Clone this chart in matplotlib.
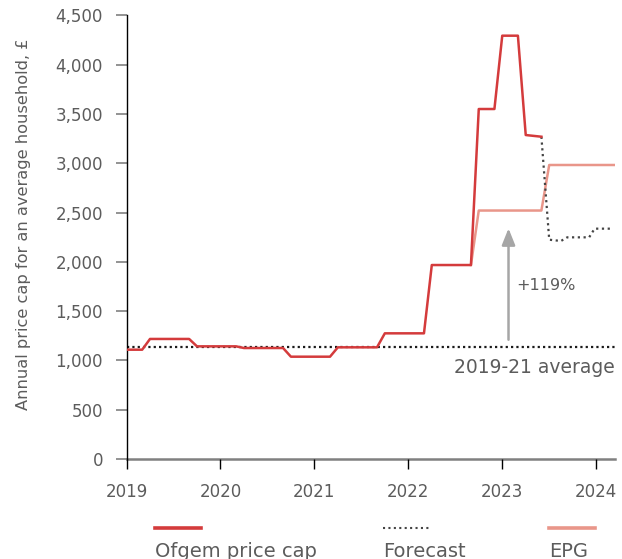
import matplotlib
matplotlib.use("Agg")
import matplotlib.pyplot as plt
from matplotlib.lines import Line2D

plt.rcParams["font.family"] = ["DejaVu Sans"]

# months counted from January 2019
cap_months = [0, 2, 3, 8, 9, 14, 15, 20, 21, 26, 27, 32, 33, 38, 39, 44, 45, 47, 48, 50, 51, 53]
cap_values = [1109, 1109, 1218, 1218, 1143, 1143, 1126, 1126, 1038, 1038, 1133, 1133,
              1275, 1275, 1968, 1968, 3551, 3551, 4295, 4295, 3287, 3270]

forecast_months = [53, 54, 55.5, 56.3, 59.1, 59.8, 62]
forecast_values = [3270, 2225, 2212, 2249, 2249, 2337, 2337]

epg_months = [44, 45, 53, 54, 62.4]
epg_values = [1968, 2521, 2521, 2983, 2983]

average_2019_21 = 1133
arrow_top = 2340
year_ticks = [0, 12, 24, 36, 48, 60]
year_labels = ["2019", "2020", "2021", "2022", "2023", "2024"]
y_ticks = list(range(0, 4501, 500))

RED = "#D43B3C"
SALMON = "#E9968A"
TEXT = "#5c5c5c"

fig = plt.figure(figsize=(6.22, 5.59), dpi=100)
ax = fig.add_axes([0.2034, 0.1789, 0.7853, 0.7934])

ax.axhline(average_2019_21, color="#1a1a1a", lw=1.6, ls=(0, (1, 1.4)), zorder=2)
ax.plot(epg_months, epg_values, color=SALMON, lw=1.8, zorder=3)
ax.plot(forecast_months, forecast_values, color="#444444", lw=1.6, ls=(0, (1, 1.6)), zorder=3)
ax.plot(cap_months, cap_values, color=RED, lw=1.8, zorder=4)

ax.annotate("", xy=(48.8, arrow_top), xytext=(48.8, 1210),
            arrowprops=dict(arrowstyle="-|>,head_length=1.0,head_width=0.4",
                            color="#A6A6A6", lw=1.8, shrinkA=0, shrinkB=0))
ax.text(49.8, 1765, "+119%", color=TEXT, fontsize=11.5, va="center", ha="left")
ax.text(62.4, 925, "2019-21 average", color=TEXT, fontsize=13.5, va="center", ha="right")

ax.set_xlim(0, 62.4)
ax.set_ylim(0, 4500)
ax.set_xticks(year_ticks, year_labels)
ax.set_yticks(y_ticks, [f"{v:,}" for v in y_ticks])

for side in ("top", "right"):
    ax.spines[side].set_visible(False)
ax.spines["left"].set_color("black")
ax.spines["left"].set_linewidth(1.0)
ax.spines["bottom"].set_color("#808080")
ax.spines["bottom"].set_linewidth(1.8)
ax.spines["bottom"].set_zorder(1)

ax.tick_params(axis="x", colors="black", length=7, width=1.0, pad=10.5,
               labelcolor=TEXT, labelsize=12)
ax.tick_params(axis="y", colors="#808080", length=8, width=1.2, pad=9,
               labelcolor=TEXT, labelsize=12)
ax.set_ylabel("Annual price cap for an average household, £", color=TEXT,
              fontsize=11.7)
ax.yaxis.set_label_coords(-0.196, 0.53)

# legend: sample line above each label
legend_items = [
    ("Ofgem price cap", RED, "-", 155),
    ("Forecast", "#444444", (0, (1, 1.6)), 383),
    ("EPG", SALMON, "-", 549),
]
W, H = 622, 559
for label, color, style, x0 in legend_items:
    fig.add_artist(Line2D([x0 / W, (x0 + 46) / W], [(H - 528) / H] * 2,
                          transform=fig.transFigure, color=color, lw=2.6 if style == "-" else 1.5,
                          ls=style))
    fig.text(x0 / W, 2 / H, label, color=TEXT, fontsize=14, ha="left", va="baseline")

fig.savefig("out.png", dpi=100)
